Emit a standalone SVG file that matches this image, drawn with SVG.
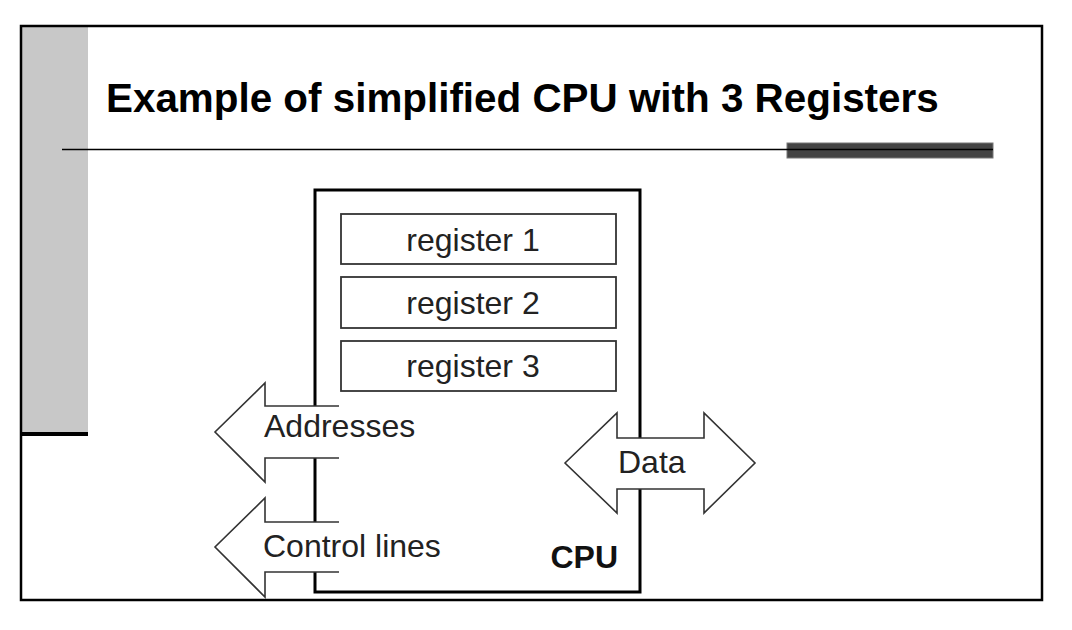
<svg xmlns="http://www.w3.org/2000/svg" width="1072" height="630" viewBox="0 0 1072 630">
  <style>
    .frame { fill: none; stroke: #000; stroke-width: 2.5; }
    .cpuedge { fill: none; stroke: #000; stroke-width: 3; stroke-linecap: square; }
    .reg { fill: #fff; stroke: #333; stroke-width: 1.8; }
    .lbl { font-family: "Liberation Sans", Arial, sans-serif; font-size: 32px; fill: #222; }
    .arrow { fill: #fff; stroke: #333; stroke-width: 1.6; stroke-linejoin: miter; }
  </style>
  <rect x="0" y="0" width="1072" height="630" fill="#fff"/>

  <g id="slide">
    <rect x="21" y="26" width="67" height="407" fill="#c8c8c8"/>
    <rect x="21" y="432" width="67" height="4" fill="#000"/>
    <rect class="frame" x="21" y="26" width="1021" height="574"/>
    <text x="106" y="112" font-family="'Liberation Sans', Arial, sans-serif" font-size="40.4" font-weight="bold" fill="#000">Example of simplified CPU with 3 Registers</text>
    <rect x="787" y="143" width="206" height="15" fill="#444" stroke="#777" stroke-width="1"/>
    <line x1="62" y1="149.5" x2="993" y2="149.5" stroke="#000" stroke-width="1.6"/>
  </g>

  <g id="cpu">
    <path class="cpuedge" d="M315,406 V190 H640 V438 M640,489 V592 H315 V572 M315,522 V458"/>
    <text x="618" y="568" font-family="'Liberation Sans', Arial, sans-serif" font-size="32" font-weight="bold" fill="#111" text-anchor="end">CPU</text>
  </g>

  <g id="register1">
    <rect class="reg" x="341" y="214" width="275" height="50"/>
    <text class="lbl" x="473" y="251" text-anchor="middle">register 1</text>
  </g>
  <g id="register2">
    <rect class="reg" x="341" y="277" width="275" height="51"/>
    <text class="lbl" x="473" y="314" text-anchor="middle">register 2</text>
  </g>
  <g id="register3">
    <rect class="reg" x="341" y="341" width="275" height="50"/>
    <text class="lbl" x="473" y="377" text-anchor="middle">register 3</text>
  </g>

  <g id="connectors">
    <g id="addresses">
      <path class="arrow" d="M339,406 H265 V383 L215,432 L265,482 V458 H339"/>
      <text class="lbl" x="264" y="437">Addresses</text>
    </g>
    <g id="control-lines">
      <path class="arrow" d="M339,522 H265 V498 L215,547 L265,597 V572 H339"/>
      <text class="lbl" x="263" y="557">Control lines</text>
    </g>
    <g id="data">
      <polygon class="arrow" points="565,463 617,413 617,438 704,438 704,413 755,463 704,513 704,489 617,489 617,513"/>
      <text class="lbl" x="618" y="473">Data</text>
    </g>
  </g>
</svg>
